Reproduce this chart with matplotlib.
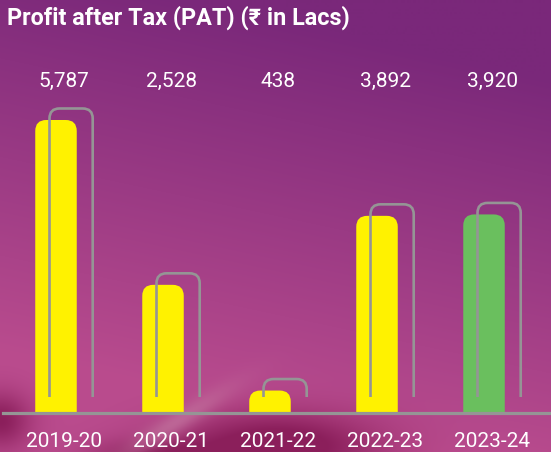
import numpy as np
import matplotlib
matplotlib.use("Agg")
import matplotlib.pyplot as plt
from matplotlib.patches import FancyBboxPatch, Rectangle
from matplotlib.transforms import blended_transform_factory

# ---- data ----
years = ["2019-20", "2020-21", "2021-22", "2022-23", "2023-24"]
pat_values = [5787, 2528, 438, 3892, 3920]
value_labels = ["5,787", "2,528", "438", "3,892", "3,920"]
bar_colors = ["#fff200", "#fff200", "#fff200", "#fff200", "#6abf5e"]
title = "Profit after Tax (PAT) (\u20b9 in Lacs)"

W, H, DPI = 551, 452, 100
fig = plt.figure(figsize=((W + 0.01) / DPI, (H + 0.01) / DPI), dpi=DPI)

# ---- background gradient ----
yy, xx = np.mgrid[0:H, 0:W].astype(float)
t = np.clip((yy / H) * 1.15 + (1 - xx / W) * 0.3 - 0.2, 0, 1)
top = np.array([122, 40, 122]) / 255
bot = np.array([186, 76, 142]) / 255
img = top[None, None, :] * (1 - t[..., None]) + bot[None, None, :] * t[..., None]
dark = np.array([134, 26, 86]) / 255
light = np.array([196, 118, 160]) / 255
d1 = np.exp(-(((xx - 275) / 100) ** 2 + ((yy - 446) / 34) ** 2))
d2 = np.exp(-(((xx - 0) / 30) ** 2 + ((yy - 420) / 28) ** 2))
d3 = np.exp(-(((xx - 150) / 60) ** 2 + ((yy - 455) / 16) ** 2))
dk = np.clip(1.3 * d1 + d2 + 0.8 * d3, 0, 1)[..., None] * 0.9
img = img * (1 - dk) + dark * dk
# light diagonal streak
dist = (yy - (452 - (xx - 125) * 0.6)) / 13
streak = np.exp(-dist ** 2) * np.exp(-((xx - 175) / 55) ** 2)
lt = np.clip(streak, 0, 1)[..., None] * 0.7
img = img * (1 - lt) + light * lt
bg = fig.add_axes([0, 0, 1, 1])
bg.imshow(img, aspect="auto", extent=(0, W, H, 0), zorder=0)
bg.set_axis_off()

# ---- main axes (in data units) ----
base_px = 412.7          # baseline from top
px_per_unit_x = 107.0
x0_px = 56.0
px_per_val = 292.7 / 5787
ax = fig.add_axes([0, (H - base_px) / H, 1, base_px / H])
ax.patch.set_alpha(0)
ax.set_xlim(-x0_px / px_per_unit_x, (W - x0_px) / px_per_unit_x)
ax.set_ylim(0, base_px / px_per_val)
ax.set_axis_off()

bar_w = 41.5 / px_per_unit_x
r_x = 11 / px_per_unit_x
r_y = 11 / px_per_val
gray = "#959595"
for i, (v, c) in enumerate(zip(pat_values, bar_colors)):
    p = FancyBboxPatch((i - bar_w / 2, -3 * r_y), bar_w, v + 3 * r_y,
                       boxstyle=f"round,pad=0,rounding_size={r_x}",
                       mutation_aspect=r_y / r_x, fc=c, ec="none", zorder=2)
    ax.add_patch(p)
    # gray bracket
    bl = i - 6.5 / px_per_unit_x
    br = i + 36.7 / px_per_unit_x
    btop = v + 11.5 / px_per_val
    rb_x = 10 / px_per_unit_x
    rb_y = 10 / px_per_val
    b = FancyBboxPatch((bl, -2000), br - bl, btop + 2000,
                       boxstyle=f"round,pad=0,rounding_size={rb_x}",
                       mutation_aspect=rb_y / rb_x, fill=False, ec=gray,
                       lw=1.9, zorder=3)
    ax.add_patch(b)
    clip = Rectangle((-5, 15.7 / px_per_val), 20, 1e5, transform=ax.transData)
    b.set_clip_path(clip)

ax.axhline(0, xmin=3 / W, xmax=1, color=gray, lw=2.3, zorder=4, clip_on=False)

trans = blended_transform_factory(ax.transData, ax.transAxes)
label_off = 8 / px_per_unit_x
font = ["Roboto", "DejaVu Sans"]
for i, (lab, yr) in enumerate(zip(value_labels, years)):
    ax.text(i + label_off, (base_px - 87) / base_px, lab, transform=trans,
            ha="center", va="baseline", color="white", fontsize=15, family=font)
    ax.text(i + label_off, -33.8 / base_px, yr, transform=trans,
            ha="center", va="baseline", color="white", fontsize=15, family=font,
            clip_on=False)

fig.text(7 / W, 1 - 24.5 / H, title, ha="left", va="baseline", color="white",
         fontsize=16.8, fontweight="bold", family=["Roboto", "Noto Sans", "DejaVu Sans"])

fig.savefig("out.png", dpi=DPI)
